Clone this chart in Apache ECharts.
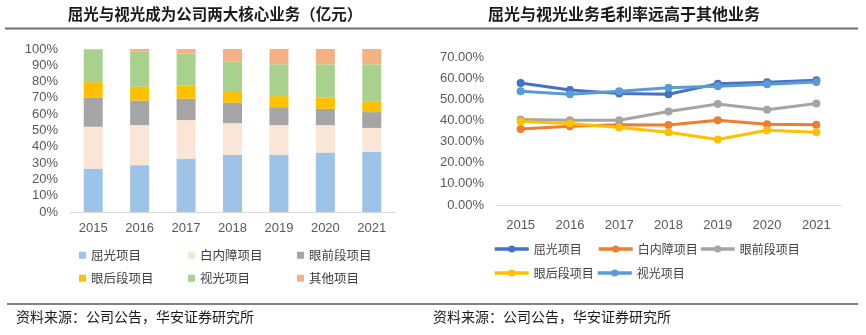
<!DOCTYPE html>
<html><head><meta charset="utf-8">
<script src="https://cdn.jsdelivr.net/npm/echarts@6/dist/echarts.min.js"></script>
<style>
html,body{margin:0;padding:0;background:#fff;}
#c1{position:absolute;left:0;top:0;width:430px;height:335px;}
#c2{position:absolute;left:430px;top:0;width:436px;height:335px;}
</style></head>
<body>
<div id="c1"></div><div id="c2"></div>
<script>
const years = ['2015','2016','2017','2018','2019','2020','2021'];
const seriesNamesBar = ['屈光项目','白内障项目','眼前段项目','眼后段项目','视光项目','其他项目'];
// share of revenue (%)
const quguangShare   = [26.6, 28.7, 32.6, 35.0, 35.2, 36.5, 36.9];
const baineizhangShare = [25.7, 24.6, 23.8, 19.5, 18.1, 16.8, 14.7];
const yanqianShare   = [18.0, 15.1, 13.1, 12.5, 11.0, 10.0, 9.7];
const yanhouShare    = [9.4, 8.4, 8.2, 6.6, 6.8, 6.8, 6.7];
const shiguangShare  = [20.0, 21.8, 19.6, 18.6, 19.5, 20.5, 22.6];
const otherShare     = [0.3, 1.4, 2.7, 7.8, 9.4, 9.4, 9.4];
// gross margin (%)
const quguangMargin  = [57.7, 54.4, 52.7, 52.4, 57.4, 58.0, 59.0];
const baineizhangMargin = [36.0, 37.3, 37.9, 37.8, 40.1, 38.2, 37.9];
const yanqianMargin  = [40.4, 40.1, 40.1, 44.2, 47.8, 45.0, 48.0];
const yanhouMargin   = [39.5, 38.5, 36.7, 34.4, 31.0, 35.4, 34.4];
const shiguangMargin = [53.8, 52.4, 53.8, 55.5, 56.2, 57.1, 58.2];
const lineNames = ['屈光项目','白内障项目','眼前段项目','眼后段项目','视光项目'];

const barColors = ['#9DC3E6','#FBE5D6','#A5A5A5','#FFC000','#A9D18E','#F4B183'];
const lineColors = ['#4472C4','#ED7D31','#A5A5A5','#FFC000','#5B9BD5'];
const cjk = '"Noto Sans CJK SC", sans-serif';
const latin = '"Liberation Sans", Arial, sans-serif';
const source = '资料来源：公司公告，华安证券研究所';

const barData = [quguangShare, baineizhangShare, yanqianShare, yanhouShare, shiguangShare, otherShare];
const lineData = [quguangMargin, baineizhangMargin, yanqianMargin, yanhouMargin, shiguangMargin];

function legendAt(name, left, top, icon, w, h, fs, extra){
  return Object.assign({data:[name], left:left, top:top, icon:icon, itemWidth:w, itemHeight:h, itemGap:0,
    selectedMode:false, textStyle:{fontFamily:cjk, fontSize:fs, color:'#404040'}, padding:0}, extra||{});
}

const c1 = echarts.init(document.getElementById('c1'));
const legPos1 = [[79,249],[188,249],[297,249],[79,272],[188,272],[297,272]];
c1.setOption({
  animation:false,
  graphic:[
    {type:'text', left:'center', top:6, x:0, style:{text:'屈光与视光成为公司两大核心业务（亿元）', font:'bold 15.5px '+cjk, fill:'#1a1a1a'}},
    {type:'line', shape:{x1:5,y1:28.5,x2:430,y2:28.5}, style:{stroke:'#6e6e6e', lineWidth:2}},
    {type:'line', shape:{x1:7,y1:304,x2:430,y2:304}, style:{stroke:'#595959', lineWidth:1.5}},
    {type:'text', x:16, y:310, style:{text:source, font:'14px '+cjk, fill:'#1a1a1a'}}
  ],
  legend: seriesNamesBar.map((n,i)=>legendAt(n, legPos1[i][0], legPos1[i][1], 'rect', 7, 7, 12.5, {itemStyle:{borderWidth:0}})),
  grid:{left:70, right:35, top:49, bottom:123},
  xAxis:{type:'category', data:years, axisTick:{show:false},
    axisLine:{lineStyle:{color:'#D9D9D9'}},
    axisLabel:{fontFamily:latin, fontSize:13, color:'#595959', margin:10}},
  yAxis:{type:'value', min:0, max:100, interval:10, splitLine:{show:false},
    axisLabel:{fontFamily:latin, fontSize:13, color:'#595959', formatter:'{value}%', margin:12}},
  series: seriesNamesBar.map((n,i)=>({name:n, type:'bar', stack:'s', data:barData[i], barWidth:19,
    itemStyle:{color:barColors[i]}}))
});

const c2 = echarts.init(document.getElementById('c2'));
const legPos2 = [[63,243],[167,243],[269,243],[63,267],[166,267]];
c2.setOption({
  animation:false,
  graphic:[
    {type:'text', x:58, y:6, style:{text:'屈光与视光业务毛利率远高于其他业务', font:'bold 16px '+cjk, fill:'#1a1a1a'}},
    {type:'line', shape:{x1:0,y1:28.5,x2:428,y2:28.5}, style:{stroke:'#6e6e6e', lineWidth:2}},
    {type:'line', shape:{x1:0,y1:304,x2:428,y2:304}, style:{stroke:'#595959', lineWidth:1.5}},
    {type:'text', x:3, y:310, style:{text:source, font:'14px '+cjk, fill:'#1a1a1a'}}
  ],
  legend: lineNames.map((n,i)=>legendAt(n, legPos2[i][0], legPos2[i][1], undefined, 34, 9, 12,
    {lineStyle:{width:3.5}, itemStyle:{borderWidth:0}})),
  grid:{left:66, right:25, top:57, bottom:130},
  xAxis:{type:'category', data:years, axisTick:{show:false},
    axisLine:{lineStyle:{color:'#D9D9D9'}},
    axisLabel:{fontFamily:latin, fontSize:13, color:'#595959', margin:14}},
  yAxis:{type:'value', min:0, max:70, interval:10, splitLine:{show:false},
    axisLabel:{fontFamily:latin, fontSize:13, color:'#595959', formatter:v=>v.toFixed(2)+'%', margin:12}},
  series: lineNames.map((n,i)=>({name:n, type:'line', data:lineData[i], symbol:'circle', symbolSize:8,
    lineStyle:{width:3, color:lineColors[i]}, itemStyle:{color:lineColors[i]}}))
});
</script>
</body></html>
